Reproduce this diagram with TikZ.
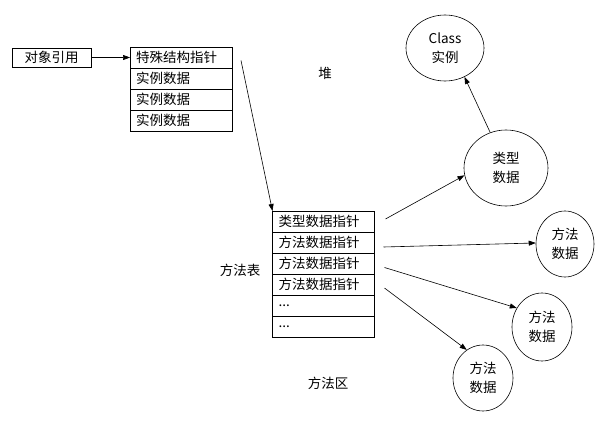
\documentclass[tikz,border=0pt]{standalone}
\usepackage{fontspec}
\setmainfont{Noto Sans CJK SC}
\usetikzlibrary{arrows.meta,positioning,shapes.geometric}

\begin{document}
\begin{tikzpicture}[x=1pt, y=-1pt,
  font=\fontsize{13.5}{19}\selectfont,
  cell/.style={draw, line width=0.6pt, minimum height=21pt, text width=90pt,
    inner xsep=6pt, inner ysep=0pt, outer sep=0pt, align=left},
  blob/.style={draw, ellipse, line width=0.6pt, inner sep=0pt, align=center},
  arrow/.style={-{Triangle[length=7pt,width=5pt]}, line width=0.6pt}
]
\useasboundingbox (0,0) rectangle (603,431);

% Reference
\node[draw, line width=0.6pt, minimum width=79pt, minimum height=19pt,
  inner sep=0pt] (ref) at (51.5,57.5) {对象引用};

% Heap object
\node[cell] (h1) at (181,57.5) {特殊结构指针};
\node[cell, below=0pt of h1] (h2) {实例数据};
\node[cell, below=0pt of h2] (h3) {实例数据};
\node[cell, below=0pt of h3] (h4) {实例数据};

% Method table
\node[cell] (m1) at (323.5,221.5) {类型数据指针};
\node[cell, below=0pt of m1] (m2) {方法数据指针};
\node[cell, below=0pt of m2] (m3) {方法数据指针};
\node[cell, below=0pt of m3] (m4) {方法数据指针};
\node[cell, below=0pt of m4] (m5) {...};
\node[cell, below=0pt of m5] (m6) {...};

% Ellipses
\node[blob, minimum width=78pt, minimum height=66pt] (cls) at (445,48) {Class\\实例};
\node[blob, minimum width=84pt, minimum height=76pt] (tp) at (506,168) {类型\\数据};
\node[blob, minimum width=58pt, minimum height=66pt] (d1) at (565,244) {方法\\数据};
\node[blob, minimum width=60pt, minimum height=68pt] (d2) at (542,327) {方法\\数据};
\node[blob, minimum width=60pt, minimum height=66pt] (d3) at (483,378) {方法\\数据};

% Area labels
\node (heap) at (325,73) {堆};
\node (mtab) at (240,270) {方法表};
\node (marea) at (328,383) {方法区};

% Arrows
\draw[arrow] (ref.east) -- (h1.west);
\draw[arrow] ([xshift=9pt,yshift=-3pt]h1.east) -- (m1.north west);
\draw[arrow] ([xshift=11pt,yshift=2.5pt]m1.east) -- (tp.190);
\draw[arrow] (tp.114) -- (cls.304);
\draw[arrow] ([xshift=9pt,yshift=-4.5pt]m2.east) -- (d1.178);
\draw[arrow] ([xshift=10pt,yshift=-4pt]m3.east) -- (d2.143);
\draw[arrow] ([xshift=10pt,yshift=-3.5pt]m4.east) -- (d3.120);

\end{tikzpicture}
\end{document}
